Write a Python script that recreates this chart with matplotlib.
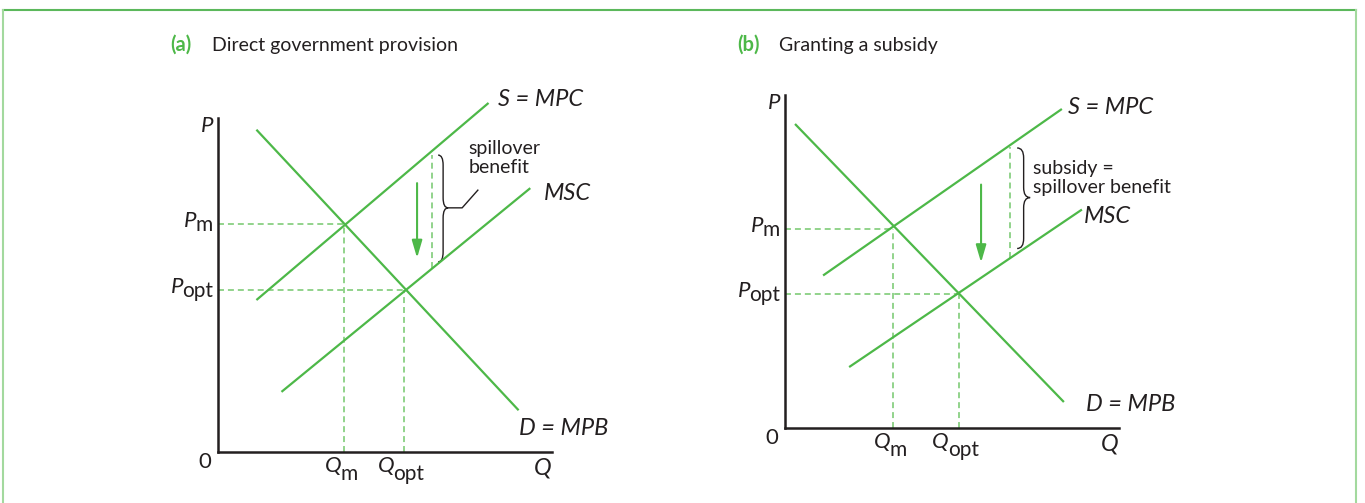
import matplotlib
matplotlib.use('Agg')
import matplotlib.pyplot as plt
from matplotlib.path import Path
from matplotlib.patches import PathPatch
from matplotlib.lines import Line2D

GREEN = '#4db848'
DASH_GREEN = '#74c76c'
INK = '#231f20'

plt.rcParams['font.family'] = ['Lato', 'DejaVu Sans']

# panel (a) : direct government provision (P and Q in diagram units, 0..10)
a_mpc_q = [1.15, 8.1]
a_mpc_p = [4.55, 10.45]
a_mpb_q = [1.15, 9.0]
a_mpb_p = [9.65, 1.25]
a_msc_q = [1.9, 9.35]
a_msc_p = [1.8, 7.9]
a_qm, a_pm = 3.77, 6.83
a_qopt, a_popt = 5.57, 4.85
a_gap_q = 6.41
a_gap_p = [5.5, 8.9]
a_arrow_q = 5.96
a_arrow_p = [8.05, 5.81]
a_brace = [6.59, 6.89, 8.89, 7.31, 5.69]   # x0, cusp x, top, middle, bottom
a_leader_q = [6.89, 7.31, 7.78]
a_leader_p = [7.31, 7.31, 7.84]

# panel (b) : granting a subsidy
b_mpc_q = [1.14, 8.29]
b_mpc_p = [4.58, 9.58]
b_mpb_q = [0.30, 8.35]
b_mpb_p = [9.13, 0.78]
b_msc_q = [1.92, 8.89]
b_msc_p = [1.83, 6.56]
b_qm, b_pm = 3.23, 5.98
b_qopt, b_popt = 5.21, 4.02
b_gap_q = 6.75
b_gap_p = [5.12, 8.45]
b_arrow_q = 5.87
b_arrow_p = [7.31, 4.97]
b_brace = [6.95, 7.34, 8.41, 6.92, 5.39]

W, H = 1365, 503


def px(v):
    # pixels -> points at 100 dpi
    return v * 0.72


def setup(ax):
    ax.set_xlim(0, 10)
    ax.set_ylim(0, 10)
    ax.spines['top'].set_visible(False)
    ax.spines['right'].set_visible(False)
    for s in ['left', 'bottom']:
        ax.spines[s].set_color(INK)
        ax.spines[s].set_linewidth(1.8)
    ax.set_xticks([])
    ax.set_yticks([])
    ax.patch.set_alpha(0)


def brace(ax, b):
    x0, x1, top, mid, bot = b
    xm = (x0 + x1) / 2
    r = 0.3
    verts = [(x0, top), (xm, top), (xm, top - r),
             (xm, mid + r), (xm, mid), (x1, mid),
             (xm, mid), (xm, mid - r),
             (xm, bot + r), (xm, bot), (x0, bot)]
    codes = [Path.MOVETO, Path.CURVE3, Path.CURVE3, Path.LINETO,
             Path.CURVE3, Path.CURVE3, Path.CURVE3, Path.CURVE3,
             Path.LINETO, Path.CURVE3, Path.CURVE3]
    ax.add_patch(PathPatch(Path(verts, codes), fill=False, ec=INK, lw=1.0, clip_on=False))


def p_label(ax, p, sub):
    s = ax.annotate(sub, xy=(0, p), xytext=(px(-5), px(-7)), textcoords='offset points',
                    ha='right', va='baseline', fontsize=15, color=INK, annotation_clip=False)
    ax.annotate('P', xy=(0, 0), xycoords=s, xytext=(px(1), px(8)), textcoords='offset points',
                ha='right', va='baseline', fontsize=16, style='italic', color=INK)


def q_label(ax, q, sub, shift):
    m = ax.annotate('Q', xy=(q, 0), xytext=(px(shift), px(-20)), textcoords='offset points',
                    ha='right', va='baseline', fontsize=16, style='italic', color=INK,
                    annotation_clip=False)
    ax.annotate(sub, xy=(1, 0), xycoords=m, xytext=(px(-1), px(-4)), textcoords='offset points',
                ha='left', va='baseline', fontsize=15, color=INK)


def draw_panel(ax, mpc, mpb, msc, qm, pm, qopt, popt, gap_q, gap_p, arrow_q, arrow_p, br):
    setup(ax)
    dash = dict(color=DASH_GREEN, lw=1.1, ls=(0, (3.9, 2.6)), clip_on=False)
    ax.plot([0, qm], [pm, pm], **dash)
    ax.plot([qm, qm], [0, pm], **dash)
    ax.plot([0, qopt], [popt, popt], **dash)
    ax.plot([qopt, qopt], [0, popt], **dash)
    ax.plot([gap_q, gap_q], gap_p, **dash)
    for q, p in [mpc, mpb, msc]:
        ax.plot(q, p, color=GREEN, lw=1.6, clip_on=False, solid_capstyle='butt')
    ax.annotate('', xy=(arrow_q, arrow_p[1]), xytext=(arrow_q, arrow_p[0]),
                arrowprops=dict(arrowstyle='-|>,head_length=0.75,head_width=0.22',
                                mutation_scale=14, color=GREEN, lw=1.5,
                                shrinkA=0, shrinkB=0),
                annotation_clip=False)
    brace(ax, br)
    p_label(ax, pm, 'm')
    p_label(ax, popt, 'opt')
    q_label(ax, qm, 'm', -2)
    q_label(ax, qopt, 'opt', -10)
    ax.annotate('P', xy=(0, 10), xytext=(px(-5), px(2)), textcoords='offset points',
                ha='right', va='top', fontsize=16, style='italic', color=INK, annotation_clip=False)
    ax.annotate('0', xy=(0, 0), xytext=(px(-7), px(-10)), textcoords='offset points',
                ha='right', va='center', fontsize=16, color=INK, annotation_clip=False)
    ax.annotate('Q', xy=(10, 0), xytext=(px(-9), px(-16)), textcoords='offset points',
                ha='center', va='center', fontsize=17, style='italic', color=INK,
                annotation_clip=False)


fig = plt.figure(figsize=(W / 100, H / 100), dpi=100)
ax_a = fig.add_axes([218 / W, 51 / H, 334 / W, 334 / H])
ax_b = fig.add_axes([785 / W, 75 / H, 334 / W, 333 / H])

draw_panel(ax_a, (a_mpc_q, a_mpc_p), (a_mpb_q, a_mpb_p), (a_msc_q, a_msc_p),
           a_qm, a_pm, a_qopt, a_popt, a_gap_q, a_gap_p, a_arrow_q, a_arrow_p, a_brace)
ax_a.plot(a_leader_q, a_leader_p, color=INK, lw=1.0, clip_on=False)
lab = dict(fontsize=17, style='italic', color=INK, va='center', ha='left')
ax_a.text(8.38, 10.54, 'S = MPC', **lab)
ax_a.text(9.76, 7.75, 'MSC', **lab)
ax_a.text(9.01, 0.69, 'D = MPB', **lab)
ax_a.text(7.49, 8.80, 'spillover\nbenefit', fontsize=14, color=INK, va='center', ha='left',
          linespacing=1.2)

draw_panel(ax_b, (b_mpc_q, b_mpc_p), (b_mpb_q, b_mpb_p), (b_msc_q, b_msc_p),
           b_qm, b_pm, b_qopt, b_popt, b_gap_q, b_gap_p, b_arrow_q, b_arrow_p, b_brace)
ax_b.text(8.47, 9.61, 'S = MPC', **lab)
ax_b.text(8.95, 6.35, 'MSC', **lab)
ax_b.text(9.01, 0.72, 'D = MPB', **lab)
ax_b.text(7.43, 7.51, 'subsidy =\nspillover benefit', fontsize=14, color=INK, va='center',
          ha='left', linespacing=1.2)

# panel titles
ty = 1 - 45 / H
fig.text(170 / W, ty, '(a)', color=GREEN, fontweight='bold', fontsize=14.5, va='center')
fig.text(212 / W, ty, 'Direct government provision', color=INK, fontsize=14, va='center')
fig.text(737 / W, ty, '(b)', color=GREEN, fontweight='bold', fontsize=14.5, va='center')
fig.text(779 / W, ty, 'Granting a subsidy', color=INK, fontsize=14, va='center')

# box around the figure
top = 1 - 9.5 / H
fig.add_artist(Line2D([3 / W, 1356 / W], [top, top], color='#5cb85c', lw=1.5))
fig.add_artist(Line2D([3 / W, 3 / W], [0, top], color='#a3d99e', lw=1.5))
fig.add_artist(Line2D([1356 / W, 1356 / W], [0, top], color='#a3d99e', lw=1.5))

fig.savefig('out.png', dpi=100)
